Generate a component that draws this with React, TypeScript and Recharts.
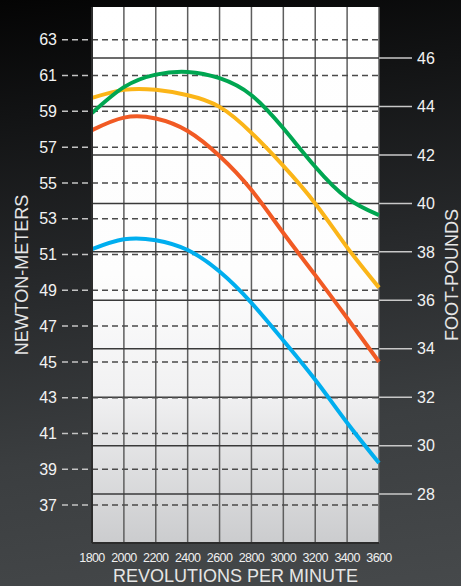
import {
  CartesianGrid,
  Label,
  Line,
  LineChart,
  ReferenceLine,
  XAxis,
  YAxis,
} from "recharts";

const rpm = [1800, 2000, 2200, 2400, 2600, 2800, 3000, 3200, 3400, 3600];
const green = [58.9, 60.35, 61.05, 61.2, 60.85, 59.9, 58.05, 55.9, 54.15, 53.2];
const yellow = [59.75, 60.2, 60.2, 59.9, 59.25, 57.8, 55.95, 53.85, 51.4, 49.15];
const red = [57.95, 58.65, 58.6, 57.9, 56.5, 54.6, 52.2, 49.85, 47.45, 45.0];
const blue = [51.3, 51.85, 51.8, 51.25, 50.05, 48.3, 46.2, 44.0, 41.6, 39.35];

const nmTicks = [37, 39, 41, 43, 45, 47, 49, 51, 53, 55, 57, 59, 61, 63];
const ftTicks = [28, 30, 32, 34, 36, 38, 40, 42, 44, 46];
const nmDomain = [34.88, 64.83];
const ftDomain = [25.98, 48.11];

const data = rpm.map((r, i) => ({
  rpm: r,
  green: green[i],
  yellow: yellow[i],
  red: red[i],
  blue: blue[i],
}));

const font = "'Liberation Sans', Arial, Helvetica, sans-serif";

function SideTitle({ viewBox, text, dx }: any) {
  const x = viewBox.x + dx;
  const y = viewBox.y + viewBox.height / 2;
  return (
    <text
      x={x}
      y={y}
      transform={`rotate(-90 ${x} ${y})`}
      textAnchor="middle"
      fill="#e6e6e6"
      fontSize={18}
      fontFamily={font}
    >
      {text}
    </text>
  );
}

export default function App() {
  return (
    <div
      style={{
        position: "absolute",
        left: 0,
        top: 0,
        width: 461,
        height: 586,
        background:
          "linear-gradient(172deg, #040404 0%, #121314 18%, #27292b 45%, #3b3e40 72%, #46494b 100%)",
      }}
    >
      <LineChart
        width={461}
        height={586}
        data={data}
        margin={{ top: 7, right: 0, bottom: 0, left: 0 }}
      >
        <defs>
          <linearGradient id="plotBg" x1="0" y1="0" x2="0" y2="1">
            <stop offset="0%" stopColor="#ffffff" />
            <stop offset="50%" stopColor="#fdfdfd" />
            <stop offset="72%" stopColor="#f1f1f2" />
            <stop offset="100%" stopColor="#cbccce" />
          </linearGradient>
        </defs>
        <CartesianGrid
          horizontal={false}
          stroke="#5e5e5e"
          strokeWidth={1.5}
          fill="url(#plotBg)"
          fillOpacity={1}
        />
        <XAxis
          dataKey="rpm"
          type="number"
          domain={[1800, 3600]}
          ticks={rpm}
          interval={0}
          height={43}
          tickLine={false}
          tickSize={0}
          tickMargin={10}
          axisLine={{ stroke: "#2c2c2c", strokeWidth: 2 }}
          tick={{ fill: "#f0f0f0", fontSize: 12.5, fontFamily: font, letterSpacing: -0.6 }}
        >
          <Label
            value="REVOLUTIONS PER MINUTE"
            position="insideBottom"
            offset={4}
            fill="#e6e6e6"
            fontSize={18}
            fontFamily={font}
          />
        </XAxis>
        <YAxis
          yAxisId="left"
          type="number"
          domain={nmDomain}
          ticks={nmTicks}
          interval={0}
          allowDataOverflow
          width={92}
          tickSize={30}
          tickMargin={5}
          axisLine={{ stroke: "#2c2c2c", strokeWidth: 2 }}
          tickLine={{ stroke: "#c4c4c4", strokeWidth: 1.5, strokeDasharray: "6 4" }}
          tick={{ fill: "#f2f2f2", fontSize: 16, fontFamily: font }}
        >
          <Label content={(p: any) => <SideTitle {...p} text="NEWTON-METERS" dx={28} />} />
        </YAxis>
        <YAxis
          yAxisId="right"
          orientation="right"
          type="number"
          domain={ftDomain}
          ticks={ftTicks}
          interval={0}
          allowDataOverflow
          width={82}
          tickSize={33}
          tickMargin={5}
          axisLine={false}
          tickLine={{ stroke: "#c8c8c8", strokeWidth: 1.5 }}
          tick={{ fill: "#f2f2f2", fontSize: 16, fontFamily: font }}
        >
          <Label content={(p: any) => <SideTitle {...p} text="FOOT-POUNDS" dx={79} />} />
        </YAxis>
        {ftTicks.map((v) => (
          <ReferenceLine
            key={`ft${v}`}
            yAxisId="right"
            y={v}
            stroke="#3a3a3a"
            strokeWidth={1.5}
          />
        ))}
        {nmTicks.map((v) => (
          <ReferenceLine
            key={`nm${v}`}
            yAxisId="left"
            y={v}
            stroke="#4a4a4a"
            strokeWidth={1.5}
            strokeDasharray="6 4"
          />
        ))}
        <Line yAxisId="left" type="natural" dataKey="blue" stroke="#00aeef" strokeWidth={4} dot={false} isAnimationActive={false} />
        <Line yAxisId="left" type="natural" dataKey="red" stroke="#f15a24" strokeWidth={4} dot={false} isAnimationActive={false} />
        <Line yAxisId="left" type="natural" dataKey="yellow" stroke="#fbb518" strokeWidth={4} dot={false} isAnimationActive={false} />
        <Line yAxisId="left" type="natural" dataKey="green" stroke="#00a651" strokeWidth={4} dot={false} isAnimationActive={false} />
      </LineChart>
    </div>
  );
}
